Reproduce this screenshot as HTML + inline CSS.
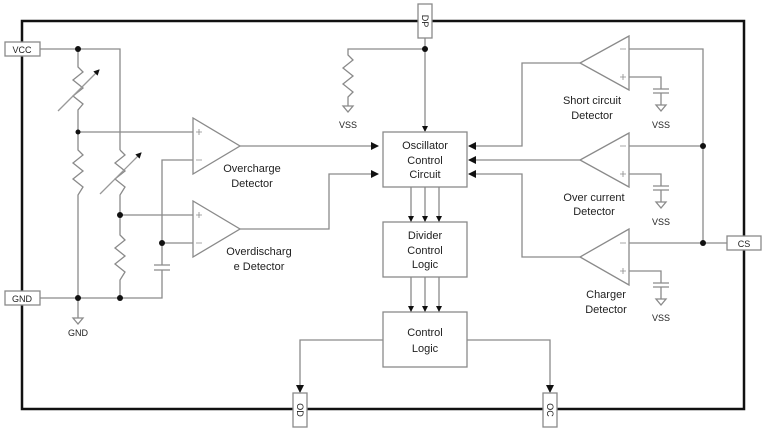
<!DOCTYPE html>
<html><head><meta charset="utf-8"><style>
html,body{margin:0;padding:0;background:#fff}
svg{display:block}
text{font-family:"Liberation Sans",sans-serif;font-size:11px;fill:#222;text-anchor:middle}
</style></head><body>
<svg width="765" height="431" viewBox="0 0 765 431" xmlns="http://www.w3.org/2000/svg">
<defs>
<marker id="a" markerWidth="8" markerHeight="8" refX="7" refY="4" orient="auto" markerUnits="userSpaceOnUse"><path d="M0,0 L8,4 L0,8 z" fill="#111"/></marker>
<marker id="s" markerWidth="6" markerHeight="6" refX="5" refY="3" orient="auto" markerUnits="userSpaceOnUse"><path d="M0,0 L6,3 L0,6 z" fill="#111"/></marker>
</defs>
<rect x="22" y="21" width="722" height="388" fill="none" stroke="#111" stroke-width="2.5"/>
<g stroke="#8a8a8a" stroke-width="1.3" fill="none">
<path d="M40,49 H120 V150"/>
<path d="M78,49 V67 L83,72 L73,80 L83,88 L73,96 L83,104 L78,110 V150 L83,155 L73,163 L83,171 L73,179 L83,187 L78,195 V298"/>
<path d="M120,150 L125,155 L115,163 L125,171 L115,179 L125,187 L120,195 V235 L125,240 L115,248 L125,256 L115,264 L125,272 L120,280 V298"/>
<path d="M40,298 H162 V270 M162,265 V160 H193"/>
<path d="M154,265 H170 M154,270 H170"/>
<path d="M78,132 H193 M120,215 H193 M162,243 H193"/>
<path d="M78,298 V318 M73,318 H83 L78,324 Z"/>
<path d="M193,118 V174 L240,146 Z M193,201 V257 L240,229 Z"/>
<path d="M240,146 H378" marker-end="url(#a)"/>
<path d="M240,229 H329 V174 H378" marker-end="url(#a)"/>
<path d="M425,38 V49 H348 V55 L353,60 L343,68 L353,76 L343,84 L353,92 L348,97 V106 M343,106 H353 L348,112 Z"/>
<path d="M425,49 V131" marker-end="url(#s)"/>
<rect x="383" y="132" width="84" height="55"/>
<rect x="383" y="222" width="84" height="55"/>
<rect x="383" y="312" width="84" height="55"/>
<path d="M411,187 V221" marker-end="url(#s)"/>
<path d="M425,187 V221" marker-end="url(#s)"/>
<path d="M439,187 V221" marker-end="url(#s)"/>
<path d="M411,277 V311" marker-end="url(#s)"/>
<path d="M425,277 V311" marker-end="url(#s)"/>
<path d="M439,277 V311" marker-end="url(#s)"/>
<path d="M383,340 H300 V392" marker-end="url(#a)"/>
<path d="M467,340 H550 V392" marker-end="url(#a)"/>
<path d="M629,36 V90 L580,63 Z M629,133 V187 L580,160 Z M629,229 V285 L580,257 Z"/>
<path d="M580,63 H522 V146 H469" marker-end="url(#a)"/>
<path d="M580,160 H469" marker-end="url(#a)"/>
<path d="M580,257 H522 V174 H469" marker-end="url(#a)"/>
<path d="M629,49 H703 V243 H727 M629,146 H703 M629,243 H703"/>
<path d="M629,77 H661 V89 M653,89 H669 M653,93 H669 M661,93 V105 M656,105 H666 L661,111 Z"/>
<path d="M629,174 H661 V186 M653,186 H669 M653,190 H669 M661,190 V202 M656,202 H666 L661,208 Z"/>
<path d="M629,271 H661 V283 M653,283 H669 M653,287 H669 M661,287 V299 M656,299 H666 L661,305 Z"/>
<path d="M58,111 L99,70" stroke="#999" marker-end="url(#s)"/>
<path d="M100,194 L141,153" stroke="#999" marker-end="url(#s)"/>
<rect x="5" y="42" width="35" height="14" fill="#fff"/>
<rect x="5" y="291" width="35" height="14" fill="#fff"/>
<rect x="418" y="4" width="14" height="34" fill="#fff"/>
<rect x="293" y="393" width="14" height="34" fill="#fff"/>
<rect x="543" y="393" width="14" height="34" fill="#fff"/>
<rect x="727" y="236" width="34" height="14" fill="#fff"/>
</g>
<g stroke="#8a8a8a" stroke-width="0.8" fill="none">
<path d="M196,132 h6 M199,129 v6 M196,160 h6 M196,215 h6 M199,212 v6 M196,243 h6"/>
<path d="M620,49 h6 M620,77 h6 M623,74 v6 M620,146 h6 M620,174 h6 M623,171 v6 M620,243 h6 M620,271 h6 M623,268 v6"/>
</g>
<g fill="#111">
<circle cx="78" cy="49" r="3"/><circle cx="78" cy="132" r="2.5"/><circle cx="120" cy="215" r="3"/>
<circle cx="162" cy="243" r="3"/><circle cx="78" cy="298" r="3"/><circle cx="120" cy="298" r="3"/>
<circle cx="425" cy="49" r="3"/><circle cx="703" cy="146" r="3"/><circle cx="703" cy="243" r="3"/>
</g>
<text x="22" y="53" style="font-size:9px">VCC</text>
<text x="22" y="302" style="font-size:9px">GND</text>
<text x="78" y="336" style="font-size:9px">GND</text>
<text x="348" y="128" style="font-size:9px">VSS</text>
<text x="661" y="128" style="font-size:9px">VSS</text>
<text x="661" y="225" style="font-size:9px">VSS</text>
<text x="661" y="321" style="font-size:9px">VSS</text>
<text x="744" y="247" style="font-size:9px">CS</text>
<text transform="translate(425,21) rotate(90)" y="3" style="font-size:9px">DP</text>
<text transform="translate(300,410) rotate(90)" y="3" style="font-size:9px">OD</text>
<text transform="translate(550,410) rotate(90)" y="3" style="font-size:9px">OC</text>
<text x="252" y="172">Overcharge</text><text x="252" y="187">Detector</text>
<text x="259" y="255">Overdischarg</text><text x="259" y="270">e Detector</text>
<text x="425" y="149">Oscillator</text><text x="425" y="164">Control</text><text x="425" y="178">Circuit</text>
<text x="425" y="239">Divider</text><text x="425" y="254">Control</text><text x="425" y="268">Logic</text>
<text x="425" y="336">Control</text><text x="425" y="352">Logic</text>
<text x="592" y="104">Short circuit</text><text x="592" y="119">Detector</text>
<text x="594" y="201">Over current</text><text x="594" y="215">Detector</text>
<text x="606" y="298">Charger</text><text x="606" y="313">Detector</text>
</svg>
</body></html>
